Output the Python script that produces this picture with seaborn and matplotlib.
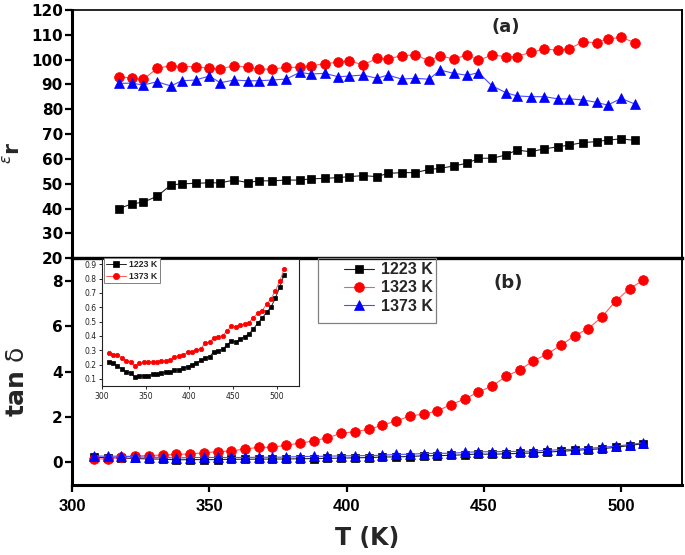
import matplotlib
matplotlib.use("Agg")
import matplotlib.pyplot as plt
import seaborn as sns
from matplotlib.patches import Rectangle
from matplotlib.font_manager import FontProperties

# ---------------- data ----------------
# panel (a): dielectric constant vs temperature
T_a = [317, 322, 326, 331, 336, 340, 345, 350, 354, 359,
       364, 368, 373, 378, 383, 387, 392, 397, 401, 406,
       411, 415, 420, 425, 430, 434, 439, 444, 448, 453,
       458, 462, 467, 472, 477, 481, 486, 491, 495, 500, 505]
eps_1223 = [40, 42, 42.6, 45, 49.5, 50, 50.2, 50.4, 50.4, 51.5,
            50.5, 51.2, 51.2, 51.5, 51.5, 52, 52.2, 52.5, 52.9, 53.3,
            52.9, 54.2, 54.5, 54.5, 55.8, 56.2, 57.2, 58.3, 60.3, 60.3,
            61.6, 63.6, 62.9, 64.1, 64.9, 65.6, 66.6, 67, 67.6, 68.1, 67.5]
eps_1323 = [93.2, 92.5, 92.1, 96.5, 97.6, 97.2, 97.2, 96.5, 96.2, 97.6,
            96.9, 96.2, 96.2, 96.9, 96.9, 97.6, 98.3, 99.1, 99.5, 97.9,
            100.5, 100.3, 101.6, 101.9, 99.6, 101.5, 100.3, 101.9, 99.7, 101.9,
            101.2, 101.2, 103, 104.2, 103.9, 104.3, 107.2, 106.8, 108.3, 109, 106.8]
eps_1373 = [90.5, 90.5, 89.8, 91.1, 89.4, 91.5, 91.8, 93.4, 90.7, 91.8,
            91.5, 91.5, 91.8, 92.2, 94.9, 94.2, 94.5, 93.1, 93.4, 93.8,
            92.5, 93.8, 92.2, 92.5, 92.1, 95.8, 94.5, 93.7, 94.8, 89.4,
            86.7, 85.4, 85.1, 85.1, 84.2, 84.2, 83.8, 82.8, 81.7, 84.4, 82.1]

# panel (b): loss tangent vs temperature
T_b = [308, 313, 318, 323, 328, 333, 338, 343, 348, 353,
       358, 363, 368, 373, 378, 383, 388, 393, 398, 403,
       408, 413, 418, 423, 428, 433, 438, 443, 448, 453,
       458, 463, 468, 473, 478, 483, 488, 493, 498, 503, 508]
tan_1223 = [0.22, 0.21, 0.19, 0.17, 0.15, 0.14, 0.11, 0.12, 0.12, 0.12,
            0.135, 0.135, 0.14, 0.145, 0.145, 0.16, 0.165, 0.175, 0.185, 0.2,
            0.21, 0.23, 0.244, 0.255, 0.29, 0.295, 0.307, 0.337, 0.365, 0.356,
            0.377, 0.395, 0.414, 0.449, 0.489, 0.524, 0.565, 0.6, 0.663, 0.74, 0.826]
tan_1323 = [0.15, 0.15, 0.25, 0.28, 0.3, 0.32, 0.35, 0.37, 0.42, 0.47,
            0.5, 0.59, 0.66, 0.66, 0.76, 0.84, 0.95, 1.08, 1.28, 1.35,
            1.45, 1.64, 1.82, 2.04, 2.13, 2.26, 2.55, 2.79, 3.11, 3.36,
            3.8, 4.07, 4.48, 4.77, 5.17, 5.58, 5.9, 6.42, 7.12, 7.66, 8.03]
tan_1373 = [0.28, 0.27, 0.27, 0.245, 0.225, 0.22, 0.19, 0.21, 0.215, 0.215,
            0.215, 0.215, 0.225, 0.225, 0.23, 0.255, 0.26, 0.27, 0.285, 0.29,
            0.30, 0.31, 0.35, 0.356, 0.388, 0.395, 0.402, 0.435, 0.47, 0.463,
            0.477, 0.482, 0.493, 0.528, 0.558, 0.577, 0.621, 0.658, 0.716, 0.78, 0.868]

labels = ["1223 K", "1323 K", "1373 K"]
a_ticks = [20, 30, 40, 50, 60, 70, 80, 90, 100, 110, 120]
b_ticks = [0, 2, 4, 6, 8]
x_ticks = [300, 350, 400, 450, 500]
in_xticks = [300, 350, 400, 450, 500]
in_yticks = [0.1, 0.2, 0.3, 0.4, 0.5, 0.6, 0.7, 0.8, 0.9]

# ---------------- style ----------------
sns.set_theme(style="ticks")
plt.rcParams['font.family'] = ['DejaVu Sans']
plt.rcParams['mathtext.fontset'] = 'dejavusans'

style = {
    "1223 K": dict(mfc="black", line="#222222", marker="s", ms=6.2),
    "1323 K": dict(mfc="#ff0000", line="#ff5a5a", marker="o", ms=7.0),
    "1373 K": dict(mfc="#0000ff", line="#4a4aff", marker="^", ms=7.6),
}
inset_style = {
    "1223 K": dict(mfc="black", line="#222222", marker="s", ms=3.0),
    "1373 K": dict(mfc="#ff0000", line="#ff5a5a", marker="o", ms=3.2),
}

W, H = 685, 555
fig = plt.figure(figsize=(W / 100, H / 100), dpi=100)
ax_a = fig.add_axes([72 / W, 1 - 258.3 / H, 609.7 / W, 248.3 / H])
ax_b = fig.add_axes([72 / W, 1 - 485 / H, 609.7 / W, 226.7 / H])
ax_in = fig.add_axes([101.7 / W, 1 - 386 / H, 197.3 / W, 126.7 / H])

def draw(ax, x, y, st, label=None, lw=0.8):
    sns.lineplot(x=x, y=y, ax=ax, color=st["line"], linewidth=lw,
                 marker=st["marker"], markersize=st["ms"],
                 markerfacecolor=st["mfc"], markeredgecolor=st["mfc"],
                 markeredgewidth=0.5, label=label, legend=False,
                 errorbar=None)

# panel (a)
for lab, y in zip(labels, [eps_1223, eps_1323, eps_1373]):
    draw(ax_a, T_a, y, style[lab])
# panel (b)
for lab, y in zip(labels, [tan_1223, tan_1323, tan_1373]):
    draw(ax_b, T_b, y, style[lab], label=lab)
# inset
draw(ax_in, T_b, tan_1223, inset_style["1223 K"], label="1223 K", lw=0.7)
draw(ax_in, T_b, tan_1373, inset_style["1373 K"], label="1373 K", lw=0.7)

# axes limits / ticks
for ax in (ax_a, ax_b):
    ax.set_xlim(300, 522)
    ax.set_xticks(x_ticks)
    ax.set_xlabel("")
    ax.set_ylabel("")
ax_a.set_ylim(20, 120)
ax_a.set_yticks(a_ticks)
ax_b.set_ylim(-1, 9)
ax_b.set_yticks(b_ticks)

ytick_font = FontProperties(family="DejaVu Sans", weight="bold", size=11)
xtick_font = FontProperties(family="Liberation Sans", weight="bold", size=12)

ax_a.tick_params(axis="x", bottom=False, labelbottom=False)
for ax in (ax_a, ax_b):
    ax.tick_params(axis="y", direction="out", length=5, width=1.6, pad=1.5,
                   colors="black", right=False)
    for t in ax.get_yticklabels():
        t.set_fontproperties(ytick_font)
ax_b.tick_params(axis="x", direction="out", length=5, width=1.6, pad=5,
                 colors="black", top=False)
for t in ax_b.get_xticklabels():
    t.set_fontproperties(xtick_font)

# spines
for ax in (ax_a, ax_b):
    for s in ax.spines.values():
        s.set_visible(True)
        s.set_color("black")
    ax.spines["left"].set_linewidth(2.2)
    ax.spines["bottom"].set_linewidth(2.2)
    ax.spines["right"].set_linewidth(1.4)
ax_a.spines["top"].set_linewidth(1.2)
ax_b.spines["top"].set_linewidth(2.4)

# axis labels
ax_a.set_ylabel(r'${}^{\varepsilon}\mathbf{r}$', fontsize=16, rotation=90)
ax_a.yaxis.set_label_coords(-0.098, 0.424)
ax_a.yaxis.label.set_va("center")
ax_b.set_ylabel(r'$\mathbf{tan}$ δ', fontsize=18, rotation=90)
ax_b.yaxis.set_label_coords(-0.091, 0.454)
ax_b.yaxis.label.set_va("center")
ax_b.set_xlabel("T (K)", fontsize=17, fontweight="bold")
ax_b.xaxis.set_label_coords(0.484, -0.234)
ax_b.xaxis.label.set_va("center")

ax_a.text(0.712, 0.931, "(a)", transform=ax_a.transAxes, ha="center",
          va="center", fontsize=13, fontweight="bold")
ax_b.text(0.715, 0.889, "(b)", transform=ax_b.transAxes, ha="center",
          va="center", fontsize=13, fontweight="bold")

# main legend (frame drawn as separate box)
leg = ax_b.legend(loc="upper right", bbox_to_anchor=(0.597, 0.997),
                  frameon=False, borderaxespad=0, borderpad=0.2,
                  handlelength=1.9, handletextpad=0.42, labelspacing=0.2,
                  prop=FontProperties(family="Liberation Sans", weight="bold",
                                      size=11.5))
ax_b.add_patch(Rectangle((0.4035, 0.716), 0.1935, 0.284,
                         transform=ax_b.transAxes, fill=False,
                         edgecolor="#808080", linewidth=0.9, clip_on=False,
                         zorder=5))

# inset styling
ax_in.set_xlim(300, 525)
ax_in.set_ylim(0.05, 0.935)
ax_in.set_xticks(in_xticks)
ax_in.set_yticks(in_yticks)
ax_in.set_xticklabels([str(v) for v in in_xticks])
ax_in.set_yticklabels([f"{v:.1f}" for v in in_yticks])
ax_in.set_xlabel("")
ax_in.set_ylabel("")
ax_in.tick_params(direction="out", length=2, width=0.6, pad=2,
                  labelsize=5.5, colors="black", labelcolor="#222222")
for s in ax_in.spines.values():
    s.set_visible(True)
    s.set_linewidth(0.8)
    s.set_color("#222222")
ax_in.set_facecolor("white")
ax_in.legend(loc="upper left", bbox_to_anchor=(0.013, 1.012), frameon=True,
             fancybox=False, edgecolor="#808080", framealpha=1,
             borderaxespad=0, borderpad=0.25, handlelength=2.2,
             handletextpad=0.4, labelspacing=0.35, markerscale=1.4,
             prop=FontProperties(family="Liberation Sans", weight="bold",
                                 size=6.3)).get_frame().set_linewidth(0.7)

fig.savefig("out.png", dpi=100, facecolor="white")
